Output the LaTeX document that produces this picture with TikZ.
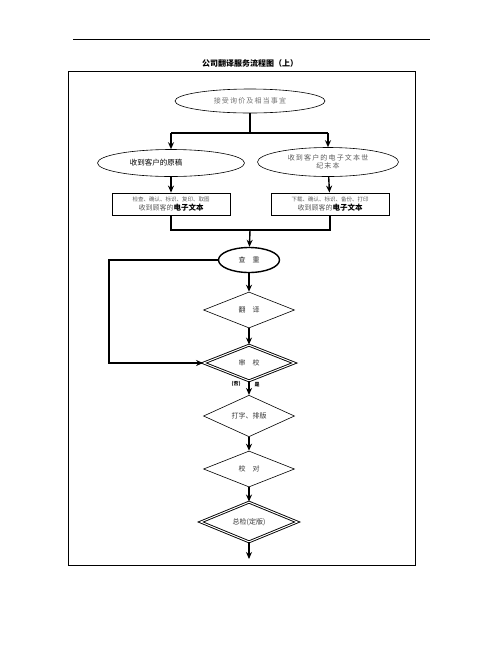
\documentclass[tikz,border=0pt]{standalone}
\usepackage{fontspec}
\newfontfamily\cjk{Noto Sans CJK SC}
\usetikzlibrary{shapes.geometric, positioning, arrows.meta}

\begin{document}
\begin{tikzpicture}[x=1pt, y=-1pt,
    font=\cjk\fontsize{7}{8.5}\selectfont,
    flow/.style={line width=1.4pt, -{Stealth[length=7pt,width=6pt]}},
    link/.style={line width=1.4pt},
    oval/.style={ellipse, draw, line width=0.6pt, inner sep=0pt, align=center},
    rhomb/.style={diamond, draw, line width=0.6pt, inner sep=0pt, minimum width=91pt, minimum height=36pt, text=black!80},
    drhomb/.style={rhomb, double, double distance=1pt, line width=0.9pt},
    textbox/.style={rectangle, draw, line width=0.8pt, minimum width=118pt, minimum height=22pt, inner sep=0pt, align=center}]
    \useasboundingbox (0,0) rectangle (502,649);

    % page rule, title and frame
    \draw[line width=0.6pt] (73,39) -- (430,39);
    \node[font=\cjk\bfseries\fontsize{8}{9}\selectfont] (title) at (250,63) {公司翻译服务流程图（上）};
    \draw[line width=0.8pt] (68,71) rectangle (415,565);

    % intake
    \node[oval, minimum width=150pt, minimum height=24pt, text=black!55] (quote) at (250,101) {接\,受\,询\,价\,及\,相\,当\,事\,宜};
    \node[oval, minimum width=147pt, minimum height=27pt, font=\cjk\fontsize{7.5}{9}\selectfont] (paper) at (171,163) {\hspace*{-30pt}收到客户的原稿};
    \node[oval, minimum width=141pt, minimum height=29pt, text=black!65] (etext) at (328,162) {收\,到\,客\,户\,的\,电\,子\,文\,本\,世\\纪\,末\,本};

    \node[textbox] (scanbox) at (171,204) {{\fontsize{5.5}{6.5}\selectfont\color{black!65}检查、确认、标识、复印、取图}\\{\color{black!65}收到顾客的}{\bfseries\fontsize{7.5}{8.5}\selectfont 电子文本}};
    \node[textbox] (dlbox) at (330,204) {{\fontsize{5.5}{6.5}\selectfont\color{black!65}下载、确认、标识、备份、打印}\\{\color{black!65}收到顾客的}{\bfseries\fontsize{7.5}{8.5}\selectfont 电子文本}};

    \coordinate (split) at (250,133);
    \coordinate (split-l) at (171,133);
    \coordinate (split-r) at (328,133);
    \coordinate (merge) at (250,230);

    \draw[link] (quote) -- (split);
    \draw[link] (split-l) -- (split-r);
    \draw[flow] (split-l) -- (paper);
    \draw[flow] (split-r) -- (etext);
    \draw[flow] (paper) -- (scanbox);
    \draw[flow] (etext) -- (dlbox);
    \draw[link] (scanbox.south) |- (merge) -| (dlbox.south);

    % translation steps
    \node[oval, line width=1.4pt, minimum width=61pt, minimum height=25pt, text=black!80] (dedup) at (249,260) {查\quad 重};
    \node[rhomb] (translate) at (249,310) {翻\quad 译};
    \node[drhomb] (review) at (249,363) {审\quad 校};
    \node[rhomb] (typeset) at (249,416) {打字、排版};
    \node[rhomb] (proof) at (249,469) {校\quad 对};
    \node[drhomb, minimum width=97pt] (final) at (249,522) {总检(定版)};
    \coordinate (loop) at (109,260);
    \coordinate (out) at (249,559);

    \node[font=\cjk\bfseries\fontsize{5}{6}\selectfont] (no) at (236,384) {(否)};
    \node[font=\cjk\bfseries\fontsize{5}{6}\selectfont] (yes) at (257,385) {是};

    \draw[flow] (merge) -- (dedup);
    \draw[flow] (dedup) -- (translate);
    \draw[flow] (translate) -- (review);
    \draw[flow] (dedup.west) -- (loop) |- (review.west);
    \draw[flow] (review) -- (typeset);
    \draw[flow] (typeset) -- (proof);
    \draw[flow] (proof) -- (final);
    \draw[flow] (final) -- (out);
\end{tikzpicture}
\end{document}
